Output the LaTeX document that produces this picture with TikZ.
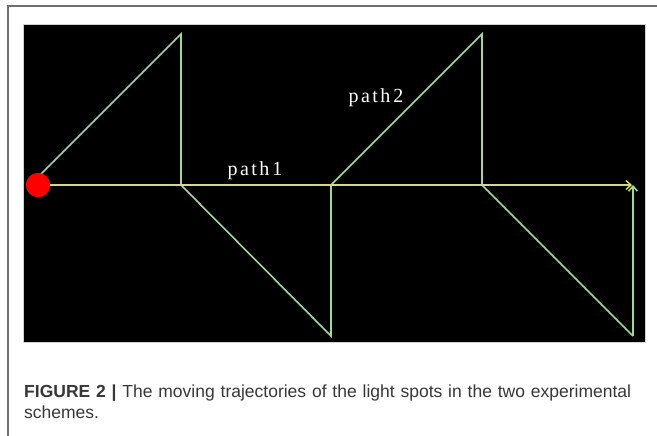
\documentclass[tikz,border=0pt]{standalone}
\usepackage{fontspec}
\usetikzlibrary{arrows.meta}
\setmainfont{Liberation Sans}
\newfontfamily\labelfont[LetterSpace=12]{Liberation Serif}
\definecolor{framegray}{RGB}{110,110,110}
\definecolor{pathgreen}{RGB}{160,215,160}
\definecolor{pathyellow}{RGB}{215,215,140}
\definecolor{tipyellow}{RGB}{235,225,40}
\definecolor{capgray}{RGB}{55,55,55}
\begin{document}
\begin{tikzpicture}[x=1pt,y=-1pt,
    path2line/.style={pathgreen,line width=1.6pt},
    path1line/.style={pathyellow,line width=1.4pt},
    spot/.style={circle,fill=red,minimum size=24pt,inner sep=0pt},
    lbl/.style={white,font=\labelfont\fontsize{20}{20}\selectfont},
    >={Straight Barb[length=5pt,width=9pt]}]
    % frame and screen
    \useasboundingbox (0,0) rectangle (657,436);
    \draw[framegray,line width=1.2pt] (8,436) -- (8,6) -- (657,6);
    \fill[black] (23,24) rectangle (645,342);
    \draw[gray!35,line width=0.8pt] (23,24) rectangle (645,342);
    % corners of the zigzag
    \coordinate (s) at (30,185);
    \coordinate (t1) at (181,34);
    \coordinate (m1) at (181,185);
    \coordinate (b1) at (331,336);
    \coordinate (m2) at (331,185);
    \coordinate (t2) at (482,34);
    \coordinate (m3) at (482,185);
    \coordinate (b2) at (633,336);
    \coordinate (e) at (633,185);
    \coordinate (tip) at (632,185);
    % path 2
    \draw[path2line] (s) -- (t1) -- (m1) -- (b1) -- (m2) -- (t2) -- (m3) -- (b2);
    \draw[path2line,->] (b2) -- (e);
    % path 1
    \node[spot] (src) at (38,185) {};
    \draw[path1line,-{Straight Barb[length=5pt,width=9pt,tipyellow]}] (src.center) -- (tip);
    \node[spot] at (src) {};
    \node[lbl] (p1) at (255,171) {path\kern3pt 1};
    \node[lbl] (p2) at (376,98) {path\kern3pt 2};
    % caption
    \node[anchor=base west,inner sep=0pt,capgray,font=\fontsize{17.5}{21}\selectfont,
      text width=624pt,align=left] (cap) at (24,397)
      {\textbf{FIGURE 2 |} The moving trajectories of the light spots in the two experimental schemes.};
\end{tikzpicture}
\end{document}
